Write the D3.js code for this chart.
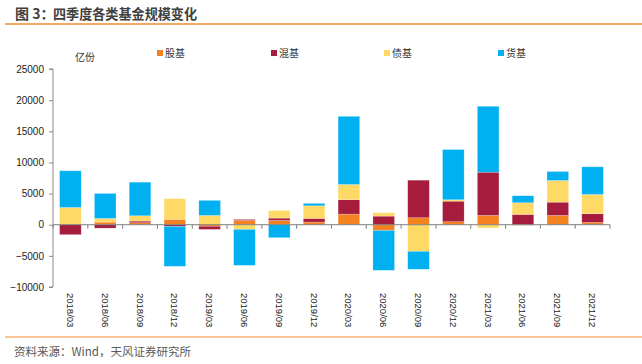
<!DOCTYPE html>
<html>
<head>
<meta charset="utf-8">
<script src="https://cdn.jsdelivr.net/npm/d3@7"></script>
<style>
  body { margin: 0; background: #fff; }
  text { font-family: "Liberation Sans", Arial, "Noto Sans CJK SC", sans-serif; }
  .cjk { font-family: "Noto Sans CJK SC", "Liberation Sans", sans-serif; }
</style>
</head>
<body>
<div class="chart"></div>
<script>
var svgWidth = 642;
var svgHeight = 364;

// plot area
var margin = { top: 69, right: 32, bottom: 77, left: 53 };
var width = svgWidth - margin.left - margin.right;
var height = svgHeight - margin.top - margin.bottom;

// data (亿份)
var quarters = ["2018/03", "2018/06", "2018/09", "2018/12", "2019/03", "2019/06", "2019/09", "2019/12",
  "2020/03", "2020/06", "2020/09", "2020/12", "2021/03", "2021/06", "2021/09", "2021/12"];
var seriesNames = ["股基", "混基", "债基", "货基"];
var stockFund = [0, 420, 320, 850, -250, 690, 690, 420, 1700, -910, 1120, 480, 1490, -80, 1490, 370];
var mixedFund = [-1600, -550, 260, -280, -500, 160, 370, 590, 2310, 1380, 6030, 3300, 6940, 1650, 2130, 1390];
var bondFund = [2770, 590, 860, 3320, 1490, -750, 1230, 2030, 2450, 540, -4270, 230, -530, 1880, 3480, 3100];
var moneyFund = [5890, 4010, 5390, -6400, 2410, -5770, -2080, 380, 10940, -6410, -2880, 8060, 10580, 1120, 1440, 4430];
var yTicks = [-10000, -5000, 0, 5000, 10000, 15000, 20000, 25000];

var colors = ["#F58220", "#A51C3C", "#FFD966", "#00B0F0"];

var rows = quarters.map(function(q, i) {
  return { quarter: q, "股基": stockFund[i], "混基": mixedFund[i], "债基": bondFund[i], "货基": moneyFund[i] };
});

var svg = d3.select(".chart")
  .append("svg")
  .attr("width", svgWidth)
  .attr("height", svgHeight);

// title + rules
var title = svg.append("text")
  .attr("class", "cjk")
  .attr("y", 19)
  .attr("font-size", 14)
  .attr("font-weight", "bold")
  .attr("fill", "#404040");
title.append("tspan").attr("x", 15).text("图 3：");
title.append("tspan").attr("x", 53)
  .attr("textLength", 144)
  .attr("lengthAdjust", "spacingAndGlyphs")
  .text("四季度各类基金规模变化");

svg.append("line")
  .attr("x1", 5).attr("x2", 642)
  .attr("y1", 24).attr("y2", 24)
  .attr("stroke", "#F08C2E")
  .attr("stroke-width", 1.5);

svg.append("line")
  .attr("x1", 5).attr("x2", 642)
  .attr("y1", 337).attr("y2", 337)
  .attr("stroke", "#F08C2E")
  .attr("stroke-width", 1.2);

svg.append("text")
  .attr("class", "cjk")
  .attr("x", 14)
  .attr("y", 356)
  .attr("font-size", 11.5)
  .attr("fill", "#595959")
  .text("资料来源：Wind，天风证券研究所");

var chartGroup = svg.append("g")
  .attr("transform", `translate(${margin.left}, ${margin.top})`);

var xScale = d3.scaleBand()
  .domain(quarters)
  .range([0, width])
  .paddingInner(0.38)
  .paddingOuter(0.19);

var yScale = d3.scaleLinear()
  .domain([-10000, 25000])
  .range([height, 0]);

var stacked = d3.stack()
  .keys(seriesNames)
  .offset(d3.stackOffsetDiverging)(rows);

// bars
chartGroup.selectAll(".series")
  .data(stacked)
  .enter()
  .append("g")
  .attr("class", "series")
  .attr("fill", (d, i) => colors[i])
  .selectAll("rect")
  .data(d => d)
  .enter()
  .append("rect")
  .attr("x", d => xScale(d.data.quarter))
  .attr("width", xScale.bandwidth())
  .attr("y", d => yScale(Math.max(d[0], d[1])))
  .attr("height", d => Math.abs(yScale(d[0]) - yScale(d[1])))
  .attr("stroke", "#fff")
  .attr("stroke-opacity", 0.35)
  .attr("stroke-width", 0.6);

// y axis
var leftAxis = d3.axisLeft(yScale)
  .tickValues(yTicks)
  .tickSize(4)
  .tickPadding(5)
  .tickFormat(d3.format("d"));

var yAxis = chartGroup.append("g")
  .call(leftAxis);
yAxis.select(".domain").attr("stroke", "#8C8C8C").attr("d", `M-4,${height}H0V0H-4`);
yAxis.selectAll(".tick line").attr("stroke", "#8C8C8C");
yAxis.selectAll(".tick text")
  .attr("font-size", 10)
  .attr("fill", "#222");

// x axis on zero line, ticks between categories
var step = xScale.step();
var xAxisGroup = chartGroup.append("g")
  .attr("transform", `translate(0, ${yScale(0)})`);
xAxisGroup.append("line")
  .attr("x1", 0).attr("x2", width)
  .attr("stroke", "#7F7F7F")
  .attr("stroke-width", 1);
xAxisGroup.selectAll(".xtick")
  .data(d3.range(quarters.length + 1))
  .enter()
  .append("line")
  .attr("class", "xtick")
  .attr("x1", d => d * step).attr("x2", d => d * step)
  .attr("y1", 0).attr("y2", 4)
  .attr("stroke", "#7F7F7F");

// category labels, rotated, under the plot
chartGroup.selectAll(".xlabel")
  .data(quarters)
  .enter()
  .append("text")
  .attr("class", "xlabel")
  .attr("transform", d => `translate(${xScale(d) + xScale.bandwidth() / 2}, ${height + 6}) rotate(90)`)
  .attr("dominant-baseline", "central")
  .attr("font-size", 9.5)
  .attr("fill", "#222")
  .text(d => d);

// unit
svg.append("text")
  .attr("class", "cjk")
  .attr("x", 75)
  .attr("y", 61)
  .attr("font-size", 10)
  .attr("fill", "#333")
  .text("亿份");

// legend
var legendX = [157, 271, 384, 498];
var legend = svg.selectAll(".legend")
  .data(seriesNames)
  .enter()
  .append("g")
  .attr("class", "legend")
  .attr("transform", (d, i) => `translate(${legendX[i]}, 53)`);
legend.append("rect")
  .attr("x", 0).attr("y", -3)
  .attr("width", 6).attr("height", 6)
  .attr("fill", (d, i) => colors[i]);
legend.append("text")
  .attr("class", "cjk")
  .attr("x", 8)
  .attr("y", 4)
  .attr("font-size", 10)
  .attr("fill", "#333")
  .text(d => d);
</script>
</body>
</html>
